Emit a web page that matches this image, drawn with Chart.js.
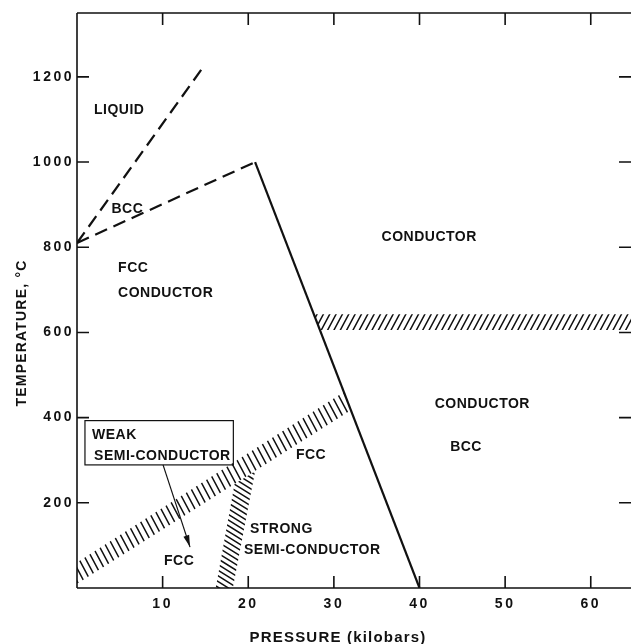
<!DOCTYPE html>
<html>
<head>
<meta charset="utf-8">
<script src="https://cdn.jsdelivr.net/npm/chart.js@4.4.1/dist/chart.umd.min.js"></script>
<style>
  html, body { margin: 0; padding: 0; background: #fff; }
  #wrap { width: 631px; height: 644px; }
</style>
</head>
<body>
<div id="wrap"><canvas id="chart" width="631" height="644"></canvas></div>
<script>
// Tick values on both axes
const pressureTicks = [10, 20, 30, 40, 50, 60];           // kilobars
const temperatureTicks = [200, 400, 600, 800, 1000, 1200]; // °C

// Phase boundaries, [pressure (kbar), temperature (°C)]
const meltingLine = [[0, 810], [14.7, 1222]];   // liquid / bcc (dashed)
const bccFccLine  = [[0, 810], [20.8, 1000]];   // bcc / fcc (dashed)
const fccBccLine  = [[20.8, 1000], [40, 0]];    // fcc / bcc (solid)

// Hatched transition bands (polygon outlines)
const conductorBand = [[27.65, 643], [64.7, 643], [64.7, 606], [28.36, 606]];
const weakBand      = [[0, 10], [0, 60], [31.17, 460], [32.02, 418]];
const strongBand    = [[16.2, 0], [18.4, 244], [20.8, 274], [18.2, 0]];

// Region names, anchored in data units
const regionLabels = [
  { text: 'LIQUID',         p: 4.9,  t: 1123, align: 'center' },
  { text: 'BCC',            p: 5.85, t: 889,  align: 'center' },
  { text: 'FCC',            p: 4.8,  t: 750,  align: 'left' },
  { text: 'CONDUCTOR',      p: 4.8,  t: 692,  align: 'left' },
  { text: 'CONDUCTOR',      p: 41.1, t: 823,  align: 'center' },
  { text: 'CONDUCTOR',      p: 47.3, t: 431,  align: 'center' },
  { text: 'BCC',            p: 45.4, t: 331,  align: 'center' },
  { text: 'FCC',            p: 27.3, t: 312,  align: 'center' },
  { text: 'STRONG',         p: 20.2, t: 138,  align: 'left' },
  { text: 'SEMI-CONDUCTOR', p: 19.5, t: 89,   align: 'left' },
  { text: 'FCC',            p: 11.9, t: 63,   align: 'center' },
  { text: 'WEAK',           p: 1.75, t: 359,  align: 'left' },
  { text: 'SEMI-CONDUCTOR', p: 1.99, t: 309,  align: 'left' }
];

// Note box around the weak semi-conductor label and its pointer
const noteBox = { p0: 0.93, p1: 18.26, t0: 289, t1: 393 };
const notePointer = { from: [10.05, 289], to: [13.2, 96] };

const toXY = arr => arr.map(([p, t]) => ({ x: p, y: t }));
const INK = '#111';
const LABEL_FONT = 'bold 14px "Liberation Sans", Arial, sans-serif';

function lineSet(points, dashed, width) {
  return {
    type: 'scatter',
    data: toXY(points),
    showLine: true,
    borderColor: INK,
    borderWidth: width,
    borderDash: dashed ? [13, 7] : [],
    pointRadius: 0,
    fill: false
  };
}

function bandSet(points, angle, spacing) {
  return {
    type: 'scatter',
    data: toXY(points),
    showLine: false,
    pointRadius: 0,
    hatch: { angle, spacing }
  };
}

// Draws diagonal hatching inside each band polygon
const hatchPlugin = {
  id: 'hatch',
  afterDatasetsDraw(chart) {
    const ctx = chart.ctx;
    chart.data.datasets.forEach((ds, i) => {
      if (!ds.hatch) return;
      const pts = chart.getDatasetMeta(i).data.map(e => ({ x: e.x, y: e.y }));
      if (!pts.length) return;
      ctx.save();
      ctx.beginPath();
      pts.forEach((q, k) => k ? ctx.lineTo(q.x, q.y) : ctx.moveTo(q.x, q.y));
      ctx.closePath();
      ctx.clip();
      const xs = pts.map(q => q.x), ys = pts.map(q => q.y);
      const cx = (Math.min(...xs) + Math.max(...xs)) / 2;
      const cy = (Math.min(...ys) + Math.max(...ys)) / 2;
      const R = Math.hypot(Math.max(...xs) - Math.min(...xs), Math.max(...ys) - Math.min(...ys)) / 2 + 10;
      const a = ds.hatch.angle * Math.PI / 180;
      const dx = Math.cos(a), dy = Math.sin(a);
      const nx = -dy, ny = dx;
      ctx.strokeStyle = INK;
      ctx.lineWidth = 1.5;
      ctx.beginPath();
      for (let off = -R; off <= R; off += ds.hatch.spacing) {
        const ox = cx + nx * off, oy = cy + ny * off;
        ctx.moveTo(ox - dx * R, oy - dy * R);
        ctx.lineTo(ox + dx * R, oy + dy * R);
      }
      ctx.stroke();
      ctx.restore();
    });
  }
};

// Frame, inward ticks, axis titles, region labels and the note box
const decorPlugin = {
  id: 'decor',
  beforeDraw(chart) {
    chart.ctx.letterSpacing = '2.5px';
  },
  afterDraw(chart) {
    const ctx = chart.ctx;
    const xs = chart.scales.x, ys = chart.scales.y;
    const { left, right, top, bottom } = chart.chartArea;
    const X = v => xs.getPixelForValue(v);
    const Y = v => ys.getPixelForValue(v);

    ctx.save();
    ctx.strokeStyle = INK;
    ctx.lineWidth = 1.6;
    ctx.beginPath();
    ctx.moveTo(left, top); ctx.lineTo(right, top);
    ctx.moveTo(left, top); ctx.lineTo(left, bottom);
    ctx.moveTo(left, bottom); ctx.lineTo(right, bottom);
    const tl = 12;
    temperatureTicks.forEach(t => {
      const y = Y(t);
      ctx.moveTo(left, y); ctx.lineTo(left + tl, y);
      ctx.moveTo(right, y); ctx.lineTo(right - tl, y);
    });
    pressureTicks.forEach(p => {
      const x = X(p);
      ctx.moveTo(x, bottom); ctx.lineTo(x, bottom - tl);
      ctx.moveTo(x, top); ctx.lineTo(x, top + tl);
    });
    ctx.stroke();

    // note box and pointer arrow
    ctx.lineWidth = 1.2;
    const bx0 = X(noteBox.p0), bx1 = X(noteBox.p1), by0 = Y(noteBox.t1), by1 = Y(noteBox.t0);
    ctx.strokeRect(bx0, by0, bx1 - bx0, by1 - by0);
    const ax0 = X(notePointer.from[0]), ay0 = Y(notePointer.from[1]);
    const ax1 = X(notePointer.to[0]), ay1 = Y(notePointer.to[1]);
    ctx.beginPath();
    ctx.moveTo(ax0, ay0); ctx.lineTo(ax1, ay1);
    ctx.stroke();
    const ang = Math.atan2(ay1 - ay0, ax1 - ax0);
    const hl = 12, hw = 3;
    ctx.fillStyle = INK;
    ctx.beginPath();
    ctx.moveTo(ax1, ay1);
    ctx.lineTo(ax1 - hl * Math.cos(ang) + hw * Math.sin(ang), ay1 - hl * Math.sin(ang) - hw * Math.cos(ang));
    ctx.lineTo(ax1 - hl * Math.cos(ang) - hw * Math.sin(ang), ay1 - hl * Math.sin(ang) + hw * Math.cos(ang));
    ctx.closePath();
    ctx.fill();

    // region labels
    ctx.fillStyle = INK;
    ctx.font = LABEL_FONT;
    ctx.letterSpacing = '0.5px';
    ctx.textBaseline = 'middle';
    regionLabels.forEach(l => {
      ctx.textAlign = l.align;
      ctx.fillText(l.text, X(l.p) + (l.align === 'center' ? 0.3 : 0), Y(l.t));
    });

    // axis titles
    ctx.letterSpacing = '1.2px';
    ctx.textAlign = 'center';
    ctx.font = 'bold 15px "Liberation Sans", Arial, sans-serif';
    ctx.fillText('PRESSURE (kilobars)', 338, 638);
    ctx.save();
    ctx.translate(22, 333);
    ctx.rotate(-Math.PI / 2);
    ctx.font = 'bold 14px "Liberation Sans", Arial, sans-serif';
    ctx.fillText('TEMPERATURE, °C', 0, 0);
    ctx.restore();
    ctx.restore();
  }
};

const tickFont = { family: '"Liberation Sans", Arial, sans-serif', size: 14, weight: 'bold' };

new Chart(document.getElementById('chart'), {
  type: 'scatter',
  data: {
    datasets: [
      bandSet(conductorBand, -62, 5.6),
      bandSet(weakBand, 62, 6.0),
      bandSet(strongBand, 32, 4.8),
      lineSet(meltingLine, true, 2.2),
      lineSet(bccFccLine, true, 2.2),
      lineSet(fccBccLine, false, 2.2)
    ]
  },
  options: {
    responsive: false,
    animation: false,
    devicePixelRatio: 1,
    layout: { padding: { top: 13, left: 0, right: 0, bottom: 0 }, autoPadding: false },
    plugins: { legend: { display: false }, tooltip: { enabled: false } },
    scales: {
      x: {
        type: 'linear',
        min: 0, max: 64.7,
        grid: { display: false, drawTicks: false },
        border: { display: false },
        afterBuildTicks: s => { s.ticks = pressureTicks.map(v => ({ value: v })); },
        afterFit: s => { s.height = 56; },
        ticks: {
          padding: 8,
          color: INK,
          font: tickFont,
          maxRotation: 0,
          callback: v => String(v)
        }
      },
      y: {
        type: 'linear',
        min: 0, max: 1350,
        grid: { display: false, drawTicks: false },
        border: { display: false },
        afterBuildTicks: s => { s.ticks = temperatureTicks.map(v => ({ value: v })); },
        afterFit: s => { s.width = 77; },
        ticks: {
          padding: 3,
          color: INK,
          font: tickFont,
          callback: v => String(v)
        }
      }
    }
  },
  plugins: [hatchPlugin, decorPlugin]
});
</script>
</body>
</html>
